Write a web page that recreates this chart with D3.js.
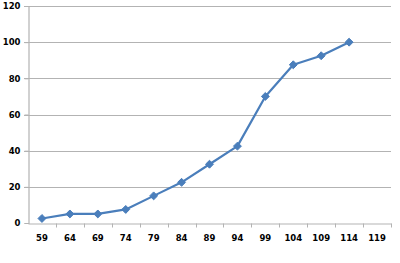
<!DOCTYPE html>
<html>
<head>
<meta charset="utf-8">
<script src="https://cdn.jsdelivr.net/npm/d3@7"></script>
<style>
  html, body { margin: 0; padding: 0; background: #fff; }
  .tick text { font-family: Tahoma, "DejaVu Sans", sans-serif; font-weight: bold; font-size: 8.5px; fill: #000; }
</style>
</head>
<body>
<div id="chart"></div>
<script>
// categories on the x axis
const categories = ['59', '64', '69', '74', '79', '84', '89', '94', '99', '104', '109', '114', '119'];
// series values (last category has no point)
const values = [2.5, 5, 5, 7.5, 15, 22.5, 32.5, 42.5, 70, 87.5, 92.5, 100];
// y tick labels
const yTicks = [0, 20, 40, 60, 80, 100, 120];

const w = 400;
const h = 263;
const margin = {top: 6, right: 9, bottom: 40, left: 28};

const svg = d3.select('#chart')
    .append('svg')
    .attr('width', w)
    .attr('height', h);

// scales
const xScale = d3.scaleBand()
    .domain(categories)
    .range([margin.left, w - margin.right]);

const yScale = d3.scaleLinear()
    .domain([0, 120])
    .range([h - margin.bottom, margin.top]);

// gridlines
svg.append('g')
    .selectAll('line')
    .data(yTicks.slice(1))
    .enter()
    .append('line')
    .attr('x1', margin.left - 4)
    .attr('x2', w - margin.right)
    .attr('y1', (d) => Math.round(yScale(d)) + 0.5)
    .attr('y2', (d) => Math.round(yScale(d)) + 0.5)
    .attr('stroke', '#b3b3b3')
    .attr('stroke-width', 1.2);

// y axis
const yAxis = d3.axisLeft(yScale).tickValues(yTicks).tickSize(4).tickPadding(4);
const gy = svg.append('g')
    .attr('transform', 'translate(' + (margin.left + 0.5) + ',0)')
    .call(yAxis);
gy.select('.domain').attr('stroke', '#b3b3b3').attr('stroke-width', 1.2);
gy.selectAll('.tick line').attr('stroke', '#b3b3b3');

// x axis with ticks at category boundaries
const xAxis = d3.axisBottom(xScale).tickSize(0).tickPadding(11);
const gx = svg.append('g')
    .attr('transform', 'translate(0,' + (Math.round(yScale(0)) + 0.5) + ')')
    .call(xAxis);
gx.select('.domain').attr('stroke', '#b3b3b3').attr('stroke-width', 1.2);

gx.selectAll('.boundary')
    .data(categories)
    .enter()
    .append('line')
    .attr('x1', (d) => Math.round(xScale(d) + xScale.bandwidth()) + 0.5)
    .attr('x2', (d) => Math.round(xScale(d) + xScale.bandwidth()) + 0.5)
    .attr('y1', 0)
    .attr('y2', 4)
    .attr('stroke', '#b3b3b3');

// line
const pts = values.map((v, i) => ({cat: categories[i], v: v}));
const line = d3.line()
    .x((d) => xScale(d.cat) + xScale.bandwidth() / 2)
    .y((d) => yScale(d.v));

svg.append('path')
    .datum(pts)
    .attr('d', line)
    .attr('fill', 'none')
    .attr('stroke', '#4a7ebb')
    .attr('stroke-width', 2.2)
    .attr('stroke-linejoin', 'round');

// diamond markers
svg.append('g')
    .selectAll('path')
    .data(pts)
    .enter()
    .append('path')
    .attr('d', d3.symbol().type(d3.symbolDiamond2).size(40))
    .attr('transform', (d) => 'translate(' + (xScale(d.cat) + xScale.bandwidth() / 2) + ',' + yScale(d.v) + ')')
    .attr('fill', '#4a7ebb')
    .attr('stroke', '#4a7ebb')
    .attr('stroke-width', 1);
</script>
</body>
</html>
